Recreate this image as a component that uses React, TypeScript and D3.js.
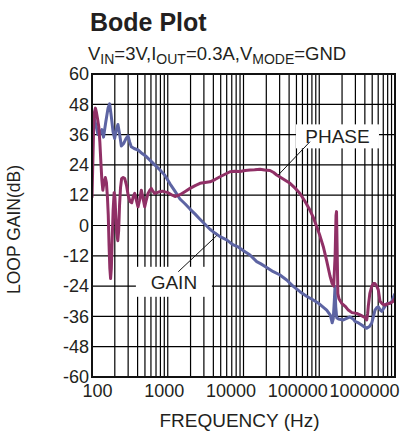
import React, { useRef, useEffect } from 'react';
import * as d3 from 'd3';

// [frequency Hz, dB]
const gainPoints: [number, number][] = [
  [100, 41], [106, 43], [112, 40], [120, 36], [128, 36.5], [135, 38], [142, 35], [152, 41],
  [163, 46.5], [171, 48.2], [180, 43], [190, 37], [199, 34.5], [210, 38], [220, 40], [232, 36],
  [244, 31.5], [262, 32.5], [282, 34.5], [299, 35.5], [315, 33], [330, 31.2], [360, 30.5],
  [405, 29.9], [460, 28.5], [521, 27.3], [600, 25.5], [673, 24], [790, 22], [911, 20],
  [1071, 16.5], [1250, 13.5], [1451, 10.5], [1700, 8.5], [1967, 6.5], [2300, 4.5], [2665, 2.5],
  [3100, 0.5], [3610, -1.5], [4200, -3], [4896, -4.4], [6000, -5.7], [7330, -7.7], [8500, -8.5],
  [10000, -10], [12180, -11.7], [14940, -14.3], [17000, -15.2], [20000, -16.5], [24740, -18.3],
  [30000, -19.5], [37180, -21.6], [45000, -24], [55700, -26.2], [68000, -28], [83470, -29.5],
  [100000, -31], [125400, -33.5], [140000, -35.5], [148000, -38.5], [153000, -37], [158000, -30],
  [161400, -24.2], [165000, -32], [170000, -36.5], [180000, -37], [207700, -37.4], [230000, -36.8],
  [254700, -36.2], [280000, -37], [296500, -38], [330000, -38.6], [363400, -39.4], [400000, -40.3],
  [423000, -40.7], [460000, -40], [492400, -38.7], [520000, -36], [544500, -33.5], [575000, -32.5],
  [602000, -32.2], [640000, -33.5], [670000, -34], [720000, -32.5], [777000, -31], [850000, -30.8],
  [904600, -30.2], [950000, -28.5], [1000000, -27],
];

const phasePoints: [number, number][] = [
  [100, 11], [102, 22], [105, 38], [108, 45], [111, 46.5], [114, 45], [118, 42.5], [123, 39],
  [127, 33], [131, 25], [135, 18], [139, 14], [144, 17], [150, 19], [155, 17], [160, 11],
  [164, 4], [168, -8], [172, -17], [176, -21], [180, -17], [185, -5], [190, 6], [196, 13],
  [201, 11], [206, 4], [212, -3], [219, -6], [225, -2], [231, 8], [238, 15], [246, 18.5],
  [258, 19], [270, 18.7], [285, 16], [300, 12], [318, 9.5], [335, 9], [350, 11.5], [366, 12.7],
  [385, 10], [405, 7.4], [425, 10], [448, 14], [470, 11], [496, 7.4], [520, 10], [549, 12.7],
  [580, 14], [607, 14.7], [640, 13.5], [673, 12.7], [720, 13], [783, 13.4], [850, 13.6],
  [1000, 13], [1150, 12], [1246, 11.5], [1451, 12.2], [1700, 13.5], [1967, 14.7], [2300, 15.8],
  [2665, 16.7], [3100, 17], [3610, 17.3], [4200, 18.2], [4896, 19.3], [5700, 20.3], [6633, 21.3],
  [7700, 21.5], [8990, 21.4], [10500, 21.8], [12180, 22], [14000, 22.1], [16510, 22.3],
  [19000, 22], [22380, 21.8], [25000, 21], [27430, 20], [33000, 18.5], [41110, 16.7],
  [48000, 14.8], [55700, 12.7], [65000, 9.5], [75500, 6], [84000, 3], [92550, -0.5],
  [102000, -4], [113100, -8.4], [125400, -14], [138700, -20], [148000, -23], [155000, -24],
  [162000, -12], [166500, 4], [169000, 5.5], [172000, -8], [176000, -27], [182000, -29],
  [197900, -30.8], [220000, -32], [241800, -33.5], [270000, -34.5], [312200, -34.8],
  [350000, -35.5], [381500, -36.1], [405000, -36.5], [423000, -37.4], [435000, -35],
  [444000, -32], [465000, -27], [492400, -24.2], [520000, -23], [544500, -23], [575000, -24],
  [602000, -25.5], [634000, -30], [680000, -31], [737900, -31.5], [800000, -31], [859000, -30.8],
  [930000, -30.2], [1000000, -29],
];

const yTicks = [60, 48, 36, 24, 12, 0, -12, -24, -36, -48, -60];
const xTicks = [100, 1000, 10000, 100000, 1000000];
const decades = [100, 1000, 10000, 100000];

// annotation: label box centre and leader line ends in data coords
const annotations = [
  { text: 'PHASE', at: [174000, 35.3] as [number, number], w: 83, h: 24,
    from: [75500, 33.2] as [number, number], to: [28800, 20] as [number, number] },
  { text: 'GAIN', at: [1206, -22.3] as [number, number], w: 76, h: 30,
    from: [1378, -18.3] as [number, number], to: [4429, -4] as [number, number] },
];

const FONT = '"Liberation Sans", Arial, sans-serif';
const GAIN_COLOR = '#5d64a3';
const PHASE_COLOR = '#903066';

const App: React.FC = () => {
  const svgRef = useRef<SVGSVGElement | null>(null);
  const width = 401;
  const height = 433;

  useEffect(() => {
    if (!svgRef.current) return;
    const margin = { top: 74, right: 6, bottom: 56, left: 92 };
    const w = width - margin.left - margin.right;
    const h = height - margin.top - margin.bottom;

    const svg = d3.select(svgRef.current);
    svg.selectAll('*').remove();

    const x = d3.scaleLog().domain([100, 1000000]).range([0, w]);
    const y = d3.scaleLinear().domain([-60, 60]).range([h, 0]);
    // tick labels in the original are squeezed, not centred on ticks
    const xLabel = d3.scaleLog().domain([100, 1000000]).range([5, 272]);

    const g = svg.append('g').attr('transform', `translate(${margin.left},${margin.top})`);

    svg.append('defs').append('clipPath').attr('id', 'plot-clip')
      .append('rect').attr('width', w).attr('height', h);

    // vertical log grid
    const vLines: number[] = [];
    decades.forEach(d => { for (let k = 1; k <= 9; k++) vLines.push(d * k); });
    vLines.push(1000000);
    g.append('g').selectAll('line').data(vLines).enter().append('line')
      .attr('x1', d => x(d)).attr('x2', d => x(d))
      .attr('y1', 0).attr('y2', h)
      .attr('stroke', '#000').attr('stroke-width', 1.2);

    g.append('g').selectAll('line').data(yTicks).enter().append('line')
      .attr('x1', 0).attr('x2', w)
      .attr('y1', d => y(d)).attr('y2', d => y(d))
      .attr('stroke', '#000').attr('stroke-width', 1.2);

    // curves
    const line = d3.line<[number, number]>()
      .x(d => x(d[0]))
      .y(d => y(d[1]));

    const curves = g.append('g').attr('clip-path', 'url(#plot-clip)');
    curves.append('path').datum(gainPoints)
      .attr('fill', 'none').attr('stroke', GAIN_COLOR).attr('stroke-width', 3)
      .attr('stroke-linejoin', 'round').attr('d', line);
    curves.append('path').datum(phasePoints)
      .attr('fill', 'none').attr('stroke', PHASE_COLOR).attr('stroke-width', 3)
      .attr('stroke-linejoin', 'round').attr('d', line);

    // annotations
    annotations.forEach(a => {
      const cx = x(a.at[0]);
      const cy = y(a.at[1]);
      g.append('rect')
        .attr('x', cx - a.w / 2).attr('y', cy - a.h / 2)
        .attr('width', a.w).attr('height', a.h)
        .attr('fill', 'white');
      g.append('text')
        .attr('x', cx).attr('y', cy + 7)
        .attr('text-anchor', 'middle')
        .attr('font-family', FONT).attr('font-size', 19)
        .attr('fill', '#231f20')
        .text(a.text);
      g.append('line')
        .attr('x1', x(a.from[0])).attr('y1', y(a.from[1]))
        .attr('x2', x(a.to[0])).attr('y2', y(a.to[1]))
        .attr('stroke', '#111').attr('stroke-width', 1);
    });

    // frame
    g.append('rect').attr('width', w).attr('height', h)
      .attr('fill', 'none').attr('stroke', '#111').attr('stroke-width', 2);

    // y axis labels
    const yAxis = d3.axisLeft(y).tickValues(yTicks).tickSize(0).tickPadding(3)
      .tickFormat(d => `${d}`);
    const ya = g.append('g').call(yAxis);
    ya.select('.domain').remove();
    ya.selectAll('text').attr('font-family', FONT).attr('font-size', 18).attr('fill', '#231f20');

    // x axis labels
    const xAxis = d3.axisBottom(xLabel).tickValues(xTicks).tickSize(0).tickPadding(7)
      .tickFormat(d => `${d}`);
    const xa = g.append('g').attr('transform', `translate(0,${h})`).call(xAxis);
    xa.select('.domain').remove();
    xa.selectAll('text').attr('font-family', FONT).attr('font-size', 18).attr('fill', '#231f20');

    // axis titles
    svg.append('text')
      .attr('x', margin.left + w / 2 - 4).attr('y', 427)
      .attr('text-anchor', 'middle')
      .attr('font-family', FONT).attr('font-size', 19).attr('fill', '#231f20')
      .text('FREQUENCY (Hz)');

    svg.append('text')
      .attr('transform', `translate(20,${margin.top + h / 2 + 4}) rotate(-90)`)
      .attr('text-anchor', 'middle')
      .attr('font-family', FONT).attr('font-size', 17.5).attr('fill', '#231f20')
      .text('LOOP GAIN(dB)');

    // title + conditions
    svg.append('text')
      .attr('x', 90).attr('y', 31)
      .attr('font-family', FONT).attr('font-size', 25).attr('font-weight', 'bold')
      .attr('fill', '#231f20')
      .text('Bode Plot');

    const sub = svg.append('text')
      .attr('x', 88).attr('y', 60)
      .attr('font-family', FONT).attr('font-size', 18.5).attr('fill', '#231f20');
    const parts: [string, boolean][] = [
      ['V', false], ['IN', true], ['=3V,I', false], ['OUT', true],
      ['=0.3A,V', false], ['MODE', true], ['=GND', false],
    ];
    parts.forEach(([t, isSub], i) => {
      const prevSub = i > 0 && parts[i - 1][1];
      sub.append('tspan')
        .attr('dy', isSub ? 4 : prevSub ? -4 : 0)
        .attr('font-size', isSub ? 14 : 18.5)
        .text(t);
    });
  }, []);

  return (
    <div>
      <style>{'body{margin:0;}'}</style>
      <svg ref={svgRef} width={width} height={height} style={{ display: 'block', background: 'white' }} />
    </div>
  );
};

export default App;
